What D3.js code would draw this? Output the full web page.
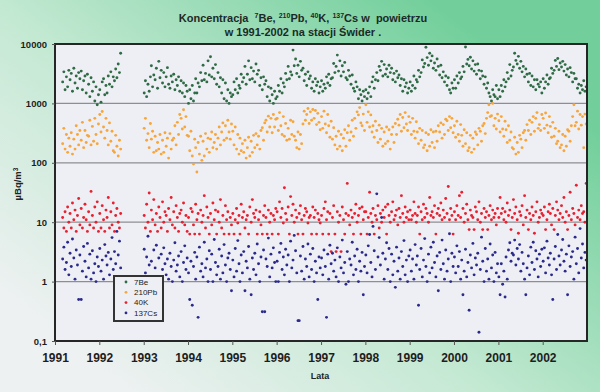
<!DOCTYPE html>
<html><head><meta charset="utf-8">
<script src="https://cdn.jsdelivr.net/npm/d3@7"></script>
<style>html,body{margin:0;padding:0;overflow:hidden;background:#fff}</style>
</head><body><svg id="c" width="600" height="392"></svg>
<script>
const years = ["1991","1992","1993","1994","1995","1996","1997","1998","1999","2000","2001","2002"];
const yTicks = [0.1, 1, 10, 100, 1000, 10000];
const yTickLabels = ["0,1", "1", "10", "100", "1000", "10000"];
const seriesNames = ["7Be", "210Pb", "40K", "137Cs"];
const seriesColors = ["#2f6b45", "#f7a63c", "#e8202f", "#2b2a8a"];
// sampling: three samples per month (days 5, 15, 25) in two measuring periods
const samplePeriods = [["1991-03", "1992-06"], ["1993-01", "2002-12"]];
const sampleDays = [5, 15, 25];

const be7 = [
2300,3400,1700,2800,1900,3600,2500,3200,1600,3900,2200,2900,1800,3300,2600,3500,1700,2400,2900,1500,3100,2100,1300,2700,1600,2300,1100,1900,950,1400,
1700,1050,2300,2600,1400,2000,1500,2900,2100,3400,1900,2800,2400,3800,2700,4600,3300,7000,
1500,2400,1300,2100,1600,2800,4300,1900,3000,2500,3900,1800,5100,2700,3600,2200,3300,1900,2800,4000,2100,1800,2900,2300,3100,1700,2500,2000,2800,1600,2400,1500,2200,1300,2000,1600,
1000,1700,1200,2000,1100,1500,2600,1500,2200,1900,3300,2400,4400,2500,3200,2300,5200,3000,6100,2800,3900,2600,4500,2100,3300,1900,2700,1500,2500,1200,2200,1100,1700,1000,1500,1300,
1400,2300,1700,2600,1500,2000,1800,3100,2300,2700,4200,2100,3100,5200,2500,4000,2600,3500,2300,4600,3100,3600,2000,2700,1700,2800,2100,2400,1300,1900,1100,1800,1400,1000,1600,1200,
1300,2000,1600,2600,1500,2200,1900,3200,2500,4200,2600,3400,3000,7900,4300,5600,3200,4400,2800,5100,3600,3900,2400,3100,2000,3400,2600,2900,1800,2300,1600,2600,2000,2300,1500,1900,
2400,1600,2100,1800,2800,2200,3100,2000,2600,2700,4700,3300,4200,6500,3500,5200,2900,4300,3400,4900,2700,2500,3600,2900,2100,3000,1800,1600,2300,1900,1200,1700,1400,1100,1600,1300,
1700,1200,1500,1900,1300,2300,2800,1800,2500,3300,2400,4200,3600,5100,2900,4500,3100,3800,2800,4400,3300,3900,2500,3200,2300,3500,2700,3000,2000,2600,1600,2500,1900,2200,1500,1800,
2300,1600,2000,2900,1800,2500,2300,3600,2800,3300,5400,4100,4700,8800,5900,4400,7000,5200,6300,3900,4800,3600,5600,4200,3000,4400,2700,3400,2300,2900,2000,2700,1700,1500,2200,1800,
2500,1800,2900,2200,3300,2600,2800,4200,3400,8900,4600,5500,4300,6000,3800,5200,3500,4500,3100,4600,3600,2600,3500,2900,2100,2800,1800,2200,1500,1300,1100,1700,1400,1300,2000,1200,
1700,1300,2000,1600,2500,1900,2300,3300,2600,4500,2900,3600,4100,7000,5300,4600,6200,3900,5100,3400,4200,2800,3800,3100,2300,3200,2000,2900,1900,2500,1700,2500,2100,1900,2300,1500,
2600,1800,2300,3000,2100,2600,2700,3900,3200,3600,5300,4200,5700,3700,4800,4100,5100,3500,4500,3000,3800,2800,4000,3300,2300,3200,2600,2600,1800,2100,1500,2000,1700,2400,1600,1900
];
const pb210 = [
210,380,170,300,150,260,190,320,140,250,170,420,300,200,350,240,480,180,350,220,290,280,520,200,410,230,560,300,210,450,
650,330,730,400,260,560,350,200,470,230,340,160,150,290,190,130,240,170,
380,560,240,310,180,460,250,340,150,280,160,220,170,300,140,240,150,320,190,260,120,310,170,240,260,420,200,480,300,650,560,370,780,400,600,290,
280,160,340,130,95,250,180,70,220,140,280,110,230,130,310,170,260,150,250,330,180,220,300,170,260,400,200,330,470,240,420,260,520,330,250,450,
340,200,400,170,300,140,260,160,210,150,240,120,180,270,130,230,150,290,180,310,200,280,170,350,390,240,470,520,330,610,400,560,320,650,400,540,
560,350,700,420,300,600,280,460,240,380,250,520,300,490,280,240,180,330,170,300,210,450,740,520,650,820,460,720,520,790,560,760,440,680,480,360,
600,380,740,450,320,650,420,270,500,250,390,200,280,170,340,190,300,160,260,360,190,320,420,240,330,520,280,560,380,720,640,850,470,420,660,350,
950,480,720,400,640,330,420,270,500,350,220,430,250,380,190,330,210,400,230,360,170,300,400,220,460,300,540,430,650,340,580,390,700,450,350,600,
480,300,560,340,260,490,330,210,380,240,350,180,200,320,160,300,190,360,220,330,180,340,230,420,330,470,260,440,300,540,510,350,600,390,560,320,
420,270,500,300,230,440,290,190,360,210,320,160,180,290,150,260,170,330,300,200,380,340,230,420,460,310,560,700,950,600,620,1000,420,560,370,660,
510,330,600,370,280,500,360,220,420,240,330,180,170,270,140,220,150,290,250,180,320,350,240,440,350,520,300,480,600,340,560,700,380,440,350,650,
560,380,690,430,320,600,410,270,480,280,380,210,230,340,180,200,300,160,280,190,360,340,230,420,600,950,420,480,740,370,650,430,600,180,660,450
];
const k40 = [
12,8,15,7,18,10,14,8,21,11,16,7,13,25,9,17,8,12,20,11,7,15,9,33,13,8,18,10,22,7,
14,8,19,11,7,16,12,26,8,15,9,21,7,13,17,10,8,14,
13,8,20,10,31,7,16,11,24,9,14,7,18,12,8,22,10,15,13,7,17,11,26,9,15,8,19,12,7,14,16,10,21,9,13,7,
12,6.3,17,15,9,6.3,20,11,14,6.3,16,10,13,28,8,18,12,6.3,14,9,21,11,16,6.3,15,10,24,8,13,6.3,19,11,15,6.3,12,9,
14,6.3,11,17,9.7,13,6.3,20,12,15,8,11,13,6.3,18,10,24,14,12,16,6.3,11,15,9,6.3,13,19,12,6.3,16,10,14,6.3,13,11,17,
15,6.3,22,12,17,9.7,38,14,11,18,6.3,27,13,20,10,16,12,6.3,14,19,11,6.3,13,17,15,9.7,12,13,6.3,18,12,16,6.3,14,11,9.7,
13,6.3,17,22,11,15,6.3,14,3.2,12,19,6.3,3.2,15,10,13,3.2,18,11,6.3,14,45,13,9,16,12,6.3,14,20,10,13,17,6.3,18,11,15,
15,6.3,12,32,14,10,17,6.3,13,11,19,8,14,10,16,12,18,6.3,20,13,10,15,22,11,13,16,9,17,12,28,14,10,18,12,15,11,
16,11,13,22,14,10,13,18,6.3,15,11,20,12,17,14,10,26,13,15,12,19,6.3,14,17,13,21,11,16,12,25,14,40,11,17,13,6.3,
15,11,19,13,28,12,32,17,10,14,20,11,7.5,16,13,12,7.5,18,15,11,22,10,14,7.5,17,12,15,7.5,13,19,11,16,12,14,9,17,
12,26,14,17,11,15,10,21,13,16,7.5,12,24,14,18,11,6.5,15,13,19,9,28,12,16,7.5,14,11,18,13,6.5,15,22,10,12,16,14,
13,18,7.5,11,15,20,14,9,17,7.5,13,22,16,11,14,19,12,26,10,15,7.5,13,32,11,17,14,9,42,12,16,11,19,14,15,10,45
];
const cs137 = [
2.4,3.8,1.6,2.1,4.6,1.3,3.0,1.8,5.2,2.5,1.1,3.4,1.9,0.5,2.8,0.5,1.5,3.9,2.2,1.2,4.4,1.7,2.9,1.1,3.3,1.4,2.0,1.0,2.6,1.8,
3.6,1.5,2.3,1.1,4.2,2.7,1.9,3.1,1.3,2.4,5.5,1.6,3.2,2.0,7.0,2.8,4.8,1.7,
3.5,1.4,2.6,5.8,1.9,0.6,2.2,1.2,3.4,1.7,4.1,0.4,2.5,1.0,2.9,1.6,3.7,2.0,1.3,2.4,1.1,3.0,1.8,1.0,2.3,4.5,1.5,1.9,2.7,1.2,3.2,1.0,2.1,4.0,1.6,2.5,
1.4,0.5,2.2,0.4,1.8,3.1,1.1,2.6,0.25,3.8,1.5,2.0,1.2,4.6,1.7,2.4,1.0,3.3,1.6,2.9,1.0,5.1,2.1,1.3,1.8,3.5,1.1,2.7,1.4,4.2,1.9,1.0,2.5,3.0,1.6,0.7,
2.3,1.2,3.6,1.5,4.9,2.0,1.0,2.8,1.4,3.2,0.7,2.2,1.7,3.9,1.1,0.6,2.5,1.6,3.0,1.3,4.3,2.0,1.0,2.6,0.31,3.4,0.31,2.4,1.8,5.4,1.2,2.9,1.7,3.7,2.1,1.0,
2.2,1.0,3.1,4.4,1.6,2.6,1.3,3.5,1.9,2.8,1.0,4.8,1.7,2.3,6.0,3.3,1.4,0.22,0.22,2.7,1.5,3.9,1.1,2.4,1.8,4.3,1.2,2.9,1.6,3.6,1.0,2.2,1.4,0.5,2.6,1.7,
2.5,1.3,3.4,1.8,0.25,2.9,1.1,4.1,2.0,3.0,1.5,2.3,1.2,3.7,1.0,2.6,1.7,5.0,1.4,2.1,0.9,3.2,1.0,2.4,1.9,4.6,1.3,2.7,1.6,3.5,1.0,2.2,1.5,3.1,0.6,1.8,
2.8,1.4,4.0,6.2,2.1,1.2,8.5,3.3,1.6,30,2.6,5.5,1.9,12,3.0,1.1,2.4,4.5,1.6,3.6,1.0,2.9,1.3,2.2,0.8,3.8,1.5,2.5,1.1,3.2,1.8,4.9,1.3,2.3,1.0,2.7,
3.4,1.5,2.4,1.1,4.2,1.9,2.7,0.4,1.6,3.6,1.2,2.3,5.3,1.8,1.0,2.9,1.4,3.8,1.7,4.6,2.1,1.2,2.7,0.7,3.1,1.6,5.0,2.0,1.1,3.4,1.5,2.4,6.4,1.0,3.0,1.8,
2.6,1.4,4.0,1.8,3.2,1.1,2.3,0.6,1.5,3.5,1.2,2.1,0.33,2.8,1.7,4.4,1.3,2.5,1.9,3.0,0.14,1.6,5.6,2.2,1.0,3.6,1.5,2.4,1.1,4.3,1.7,2.8,1.0,3.1,1.4,2.0,
1.2,0.6,2.0,0.9,1.5,0.55,2.6,1.1,3.4,4.5,2.2,3.0,2.8,5.0,1.9,3.6,2.4,4.2,1.5,3.1,2.0,1.1,0.6,1.7,2.7,1.3,3.8,2.1,4.6,1.6,3.3,2.4,1.2,2.9,1.8,3.5,
2.2,3.7,1.4,4.8,2.5,1.9,3.0,1.3,0.5,2.4,3.9,1.6,6.2,2.7,1.9,3.4,5.1,2.2,1.5,2.9,0.6,4.0,1.8,2.6,3.2,1.1,5.6,2.0,3.6,1.4,7.8,2.5,4.3,1.7,3.1,2.3
];
const seriesValues = [be7, pb210, k40, cs137];

// ---- sample dates ----
const parseM = d3.timeParse("%Y-%m");
const dates = [];
samplePeriods.forEach(([a, b]) => {
  d3.timeMonth.range(parseM(a), d3.timeMonth.offset(parseM(b), 1)).forEach(m => {
    sampleDays.forEach(d => dates.push(new Date(m.getFullYear(), m.getMonth(), d)));
  });
});

const svg = d3.select("#c");
const FONT = "'Liberation Sans', Arial, Helvetica, sans-serif";

// background gradient
const defs = svg.append("defs");
const bg = defs.append("linearGradient").attr("id", "bg")
  .attr("gradientUnits", "userSpaceOnUse")
  .attr("x1", 120).attr("y1", 392).attr("x2", 430).attr("y2", 0);
bg.append("stop").attr("offset", 0).attr("stop-color", "#eef1f2");
bg.append("stop").attr("offset", 0.45).attr("stop-color", "#c4e9d3");
bg.append("stop").attr("offset", 1).attr("stop-color", "#72cf9b");
svg.append("rect").attr("width", 600).attr("height", 392).attr("fill", "url(#bg)");

const L = 55, R = 587, T = 44, B = 341;
const x = d3.scaleTime()
  .domain([new Date(1991, 0, 1), new Date(2003, 0, 1)])
  .range([L, R]);
const y = d3.scaleLog().domain([0.1, 10000]).range([B, T]);

// plot area
svg.append("rect").attr("x", L).attr("y", T).attr("width", R - L).attr("height", B - T)
  .attr("fill", "#eeeff5");

// gridlines
svg.append("g").selectAll("line").data(yTicks.slice(1, -1)).join("line")
  .attr("x1", L).attr("x2", R)
  .attr("y1", d => y(d)).attr("y2", d => y(d))
  .attr("stroke", "#8e8e92").attr("stroke-width", 1.3);

// points
seriesValues.forEach((vals, si) => {
  svg.append("g").selectAll("circle")
    .data(vals.map((v, i) => ({ d: dates[i], v })).filter(p => p.d))
    .join("circle")
    .attr("cx", p => x(p.d)).attr("cy", p => y(p.v))
    .attr("r", 1.45)
    .attr("fill", seriesColors[si]);
});

// frame
svg.append("rect").attr("x", L).attr("y", T).attr("width", R - L).attr("height", B - T)
  .attr("fill", "none").attr("stroke", "#262626").attr("stroke-width", 2);

// x axis
const xAxis = d3.axisBottom(x)
  .tickValues(years.map(yr => new Date(+yr, 0, 1)))
  .tickFormat(d3.timeFormat("%Y"))
  .tickSize(4).tickSizeOuter(0).tickPadding(6);
const gx = svg.append("g").attr("transform", `translate(0,${B})`).call(xAxis);
gx.select(".domain").remove();
gx.selectAll(".tick line").attr("stroke", "#555");
gx.selectAll(".tick text").attr("font-family", FONT).attr("font-weight", "bold")
  .attr("font-size", 12).attr("fill", "#1e1e1e").attr("dy", "0.95em");

// y axis
const yAxis = d3.axisLeft(y).tickValues(yTicks)
  .tickFormat((d, i) => yTickLabels[i]).tickSize(3).tickPadding(5);
const gy = svg.append("g").attr("transform", `translate(${L},0)`).call(yAxis);
gy.select(".domain").remove();
gy.selectAll(".tick line").attr("stroke", "#555");
gy.selectAll(".tick text").attr("font-family", FONT).attr("font-weight", "bold")
  .attr("font-size", 9.5).attr("fill", "#1e1e1e");

// axis titles
svg.append("text").attr("x", 320).attr("y", 379).attr("text-anchor", "middle")
  .attr("font-family", FONT).attr("font-weight", "bold").attr("font-size", 9)
  .attr("fill", "#222").text("Lata");
const yl = svg.append("text").attr("transform", "translate(21,184) rotate(-90)")
  .attr("text-anchor", "middle").attr("font-family", FONT).attr("font-weight", "bold")
  .attr("font-size", 9.5).attr("fill", "#222");
yl.append("tspan").text("µBq/m");
yl.append("tspan").attr("dy", -3).attr("font-size", 6.5).text("3");

// title
const t1 = svg.append("text").attr("x", 303).attr("y", 22).attr("text-anchor", "middle")
  .attr("font-family", FONT).attr("font-weight", "bold").attr("font-size", 11).attr("fill", "#1c2a26");
const parts = [["Koncentracja  ", false], ["7", true], ["Be, ", false], ["210", true], ["Pb, ", false],
  ["40", true], ["K, ", false], ["137", true], ["Cs w  powietrzu", false]];
let up = false;
parts.forEach(([s, sup]) => {
  const ts = t1.append("tspan").text(s).attr("xml:space", "preserve");
  if (sup && !up) { ts.attr("dy", -4).attr("font-size", 7); up = true; }
  else if (sup) { ts.attr("font-size", 7); }
  else if (up) { ts.attr("dy", 4); up = false; }
});
svg.append("text").attr("x", 303).attr("y", 36).attr("text-anchor", "middle")
  .attr("font-family", FONT).attr("font-weight", "bold").attr("font-size", 11).attr("fill", "#1c2a26")
  .text("w 1991-2002 na stacji Świder .");

// legend
const lg = svg.append("g");
lg.append("rect").attr("x", 114).attr("y", 276).attr("width", 49).attr("height", 45)
  .attr("fill", "#eeeff5").attr("stroke", "#333").attr("stroke-width", 2);
seriesNames.forEach((n, i) => {
  const yy = 282 + i * 10.3;
  lg.append("circle").attr("cx", 126).attr("cy", yy).attr("r", 1.4).attr("fill", seriesColors[i]);
  lg.append("text").attr("x", 134).attr("y", yy).attr("dy", "0.35em")
    .attr("font-family", FONT).attr("font-size", 8).attr("fill", "#222").text(n);
});
</script>
</body></html>
